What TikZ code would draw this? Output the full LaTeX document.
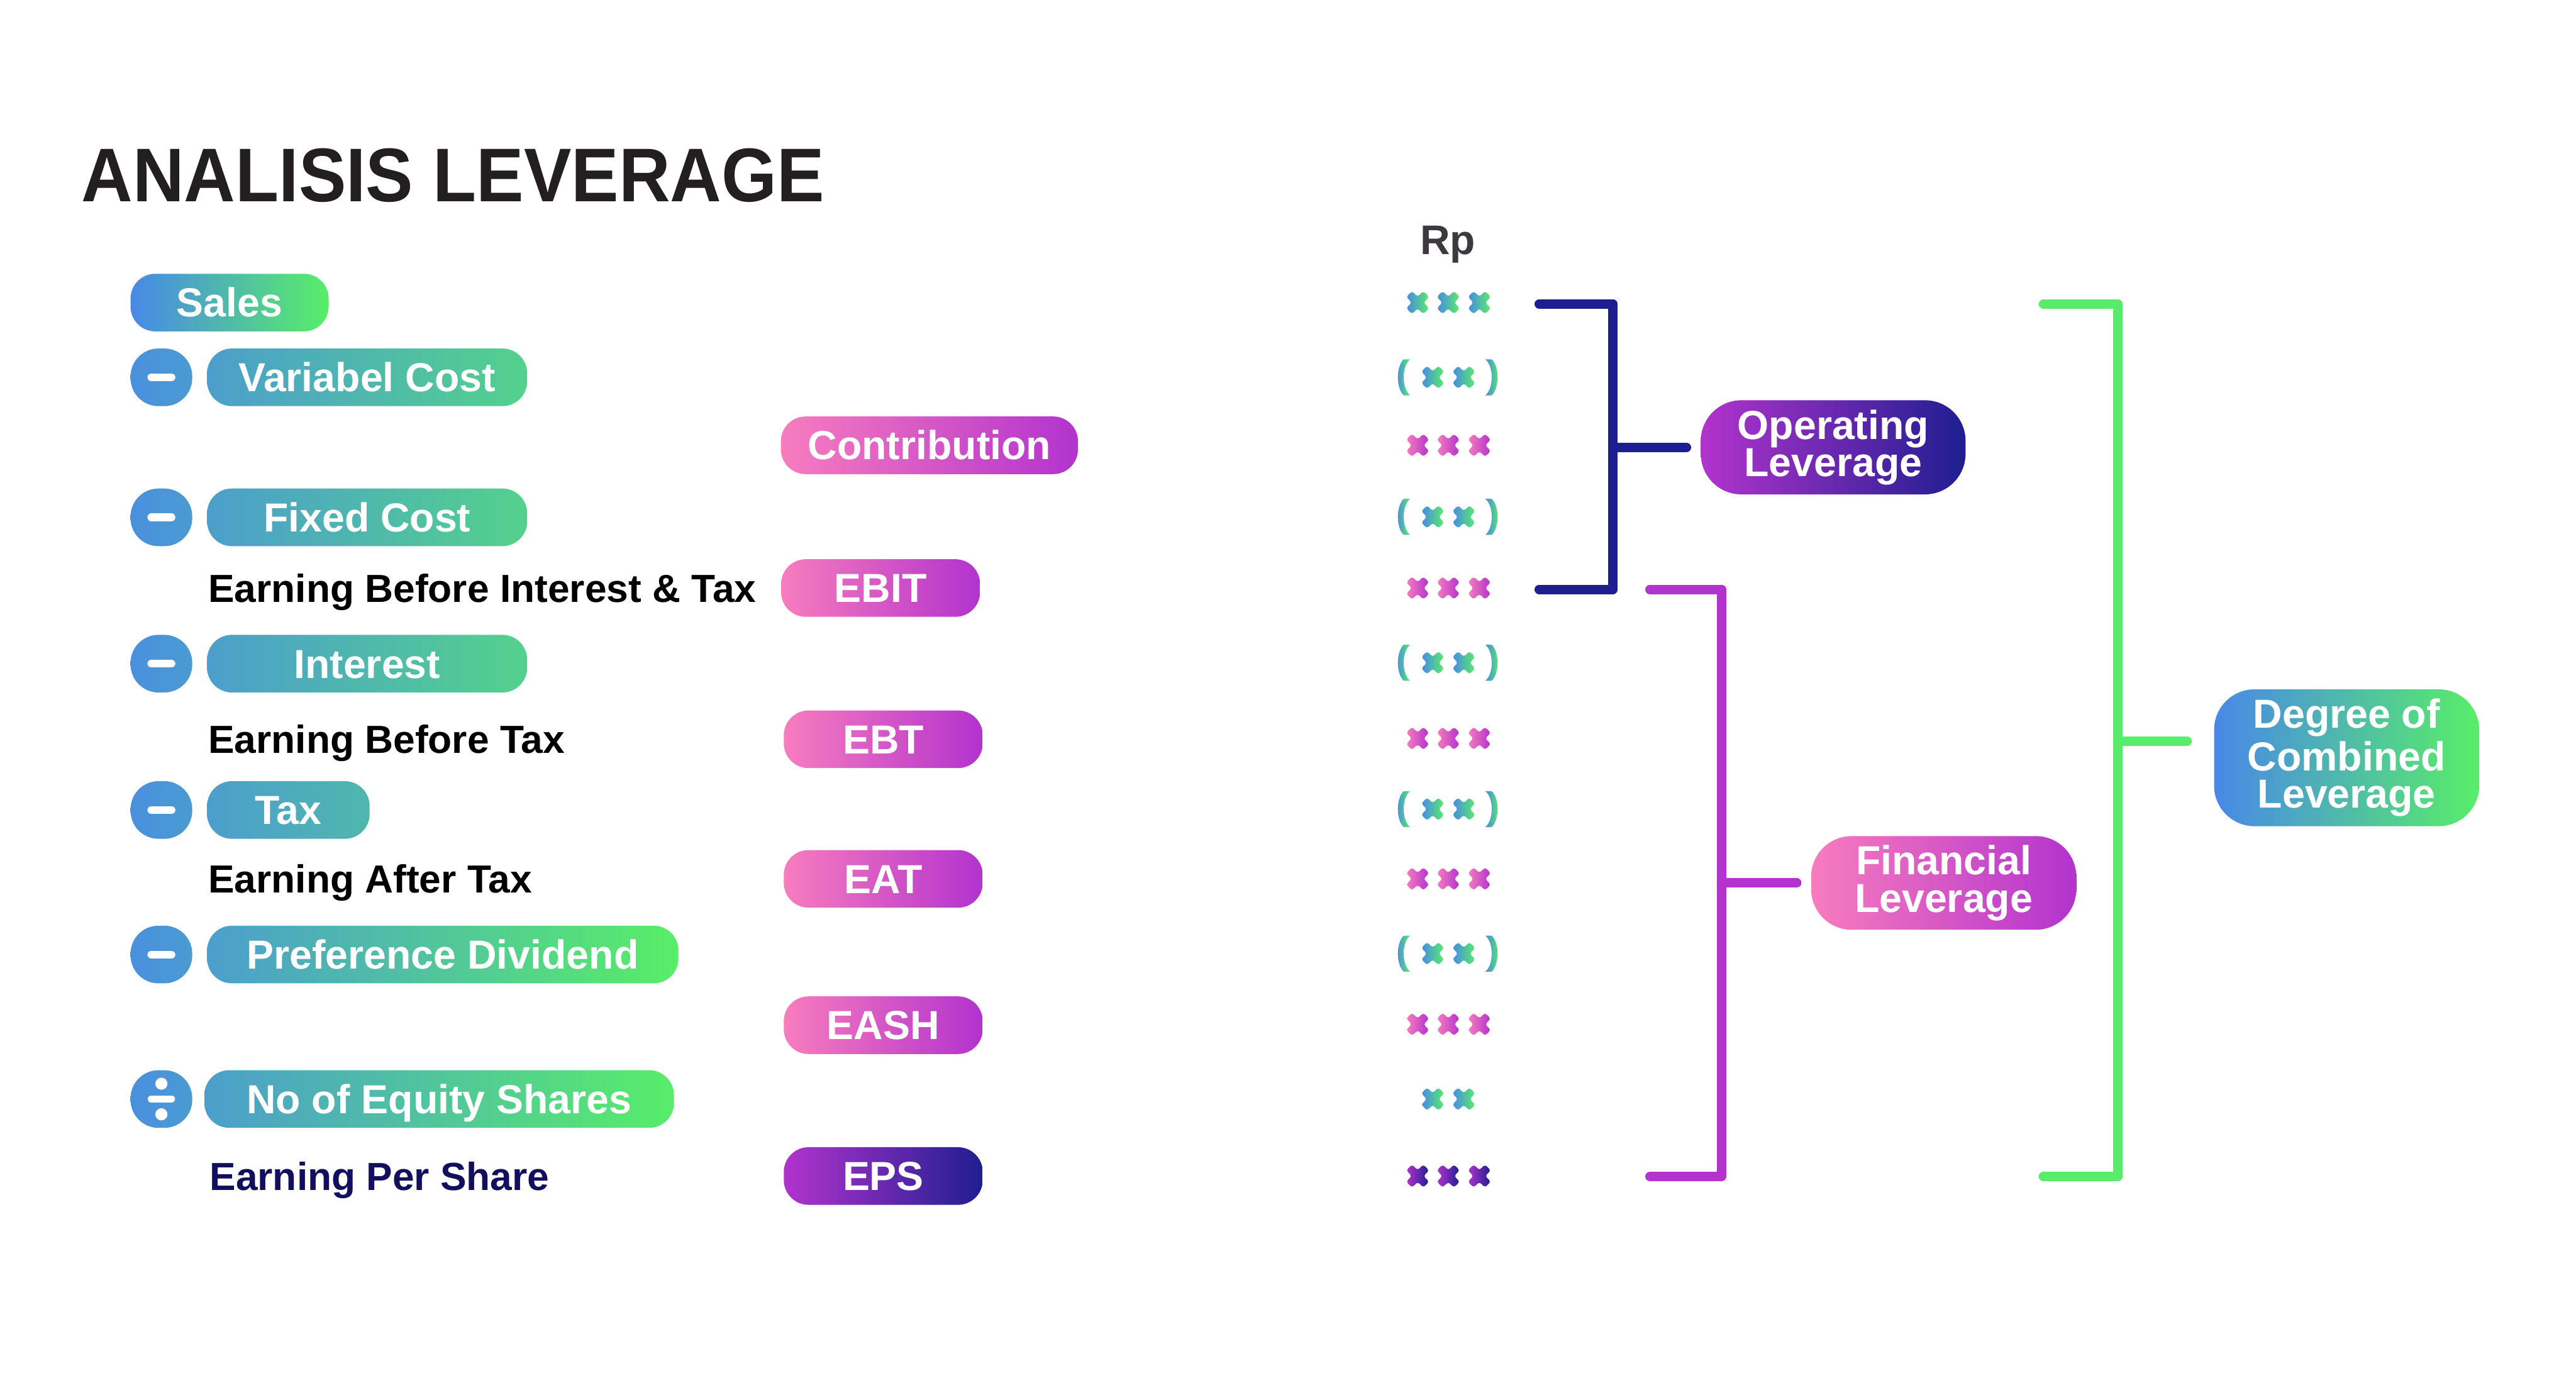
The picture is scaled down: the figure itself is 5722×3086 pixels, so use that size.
\documentclass[tikz,border=0pt]{standalone}
\usepackage{fontspec}
\setmainfont{Liberation Sans}
\newfontfamily\titlefont[FakeStretch=0.935]{Liberation Sans}
\usetikzlibrary{calc}
\definecolor{gBlue}{HTML}{4888E8}
\definecolor{gGreen}{HTML}{58EE68}
\definecolor{pPink}{HTML}{F87CBE}
\definecolor{pPurple}{HTML}{B233CE}
\definecolor{nNavy}{HTML}{1F1E91}
\definecolor{epsNavy}{HTML}{12105E}
\definecolor{titleC}{HTML}{231F20}
\definecolor{rpC}{HTML}{3D3A3E}
\definecolor{lineGreen}{HTML}{58EC6A}
\newcommand\xmk[3]{\shade[left color=#2,right color=#3,rounded corners=0.55pt,shift={(#1)}] (0,13) -- (12.5,25.5) -- (25.5,12.5) -- (13,0) -- (25.5,-12.5) -- (12.5,-25.5) -- (0,-13) -- (-12.5,-25.5) -- (-25.5,-12.5) -- (-13,0) -- (-25.5,12.5) -- (-12.5,25.5) -- cycle;}
\newcommand\lparen[1]{\shade[left color=gBlue,right color=gGreen,shift={(#1)}] (-0.5,-40) .. controls (-17.8,-24) and (-17.8,24) .. (-0.5,40) -- (13.5,40) .. controls (-5.2,24) and (-5.2,-24) .. (13.5,-40) -- cycle;}
\newcommand\rparen[1]{\shade[left color=gBlue,right color=gGreen,shift={(#1)}] (0.5,-40) .. controls (17.8,-24) and (17.8,24) .. (0.5,40) -- (-13.5,40) .. controls (5.2,24) and (5.2,-24) .. (-13.5,-40) -- cycle;}
\newcommand\xxxrow[3]{\xmk{3149,#1}{#2}{#3}\xmk{3217,#1}{#2}{#3}\xmk{3286,#1}{#2}{#3}}
\newcommand\pxxrow[1]{\lparen{3118.5,#1}\rparen{3313,#1}\xmk{3182.5,#1}{gBlue}{gGreen}\xmk{3251.5,#1}{gBlue}{gGreen}}
\begin{document}
\begin{tikzpicture}[x=0.1pt,y=-0.1pt,
  pill/.style={rounded corners=5.5pt, minimum height=12.8pt, inner sep=0pt, text height=6.4pt, text depth=0pt, font=\fontsize{9}{10}\selectfont\bfseries, text=white},
  opbox/.style={rounded corners=6.2pt, minimum width=13.7pt, minimum height=12.8pt, inner sep=0pt, left color=gGreen!8!gBlue, right color=gGreen!18!gBlue},
  lev/.style={rounded corners=9pt, inner sep=0pt, align=center, text=white, font=\fontsize{9}{8.3}\selectfont\bfseries},
  lbl/.style={anchor=base west, inner sep=0pt, font=\fontsize{8.7}{10}\selectfont\bfseries, text=black},
  brk/.style={line width=2.1pt, line cap=round, line join=round},
  minusbar/.style={white, line width=1.7pt, line cap=round}]
\useasboundingbox (0,0) rectangle (5722,3086);
\fill[white] (0,0) rectangle (5722,3086);

% title
\node[anchor=base west, inner sep=0pt, font=\titlefont\fontsize{16.9}{20}\selectfont\bfseries, text=titleC] (title) at (179,448) {ANALISIS LEVERAGE};

% left column
\node[pill, minimum width=44pt, left color=gBlue, right color=gGreen] (sales) at (510,672) {Sales};

\node[opbox] (m1) at (358.5,838) {};
\draw[minusbar] ([xshift=-2.25pt]m1.center) -- ([xshift=2.25pt]m1.center);
\node[pill, minimum width=71.1pt, left color=gGreen!22!gBlue, right color=gGreen!72!gBlue] (vc) at (815.5,838) {Variabel Cost};

\node[pill, minimum width=66pt, left color=pPink, right color=pPurple] (contr) at (2064.5,989) {Contribution};

\node[opbox] (m2) at (358.5,1149) {};
\draw[minusbar] ([xshift=-2.25pt]m2.center) -- ([xshift=2.25pt]m2.center);
\node[pill, minimum width=71.1pt, left color=gGreen!22!gBlue, right color=gGreen!72!gBlue] (fc) at (815.5,1149) {Fixed Cost};

\node[lbl] (ebitt) at (461,1338) {Earning Before Interest \& Tax};
\node[pill, minimum width=44.2pt, left color=pPink, right color=pPurple] (ebit) at (1956,1306) {EBIT};

\node[opbox] (m3) at (358.5,1474) {};
\draw[minusbar] ([xshift=-2.25pt]m3.center) -- ([xshift=2.25pt]m3.center);
\node[pill, minimum width=71.1pt, left color=gGreen!22!gBlue, right color=gGreen!72!gBlue] (int) at (815.5,1474) {Interest};

\node[lbl] (ebtt) at (461,1673) {Earning Before Tax};
\node[pill, minimum width=44.2pt, left color=pPink, right color=pPurple] (ebt) at (1962,1642) {EBT};

\node[opbox] (m4) at (358.5,1799) {};
\draw[minusbar] ([xshift=-2.25pt]m4.center) -- ([xshift=2.25pt]m4.center);
\node[pill, minimum width=36.1pt, left color=gGreen!22!gBlue, right color=gGreen!46!gBlue] (tax) at (640.5,1799) {Tax};

\node[lbl] (eatt) at (461,1983) {Earning After Tax};
\node[pill, minimum width=44.2pt, left color=pPink, right color=pPurple] (eat) at (1962,1952) {EAT};

\node[opbox] (m5) at (358.5,2120) {};
\draw[minusbar] ([xshift=-2.25pt]m5.center) -- ([xshift=2.25pt]m5.center);
\node[pill, minimum width=104.7pt, left color=gGreen!22!gBlue, right color=gGreen] (pref) at (983.5,2120) {Preference Dividend};

\node[pill, minimum width=44.2pt, left color=pPink, right color=pPurple] (eash) at (1962,2277) {EASH};

\node[opbox] (dv) at (358.5,2441) {};
\draw[white, line width=1.6pt, line cap=round] ([xshift=-2.25pt]dv.center) -- ([xshift=2.25pt]dv.center);
\fill[white] ([yshift=3.4pt]dv.center) circle (1.35pt);
\fill[white] ([yshift=-3.4pt]dv.center) circle (1.35pt);
\node[pill, minimum width=104.3pt, left color=gGreen!22!gBlue, right color=gGreen!99!gBlue] (eq) at (975.5,2441) {No of Equity Shares};

\node[lbl, text=epsNavy] (epst) at (464,2644) {Earning Per Share};
\node[pill, minimum width=44.2pt, left color=pPurple, right color=nNavy] (eps) at (1962,2612) {EPS};

% Rp column
\node[anchor=base, inner sep=0pt, font=\fontsize{9.2}{10}\selectfont\bfseries, text=rpC] (rp) at (3216,565) {Rp};
\xxxrow{672}{gBlue}{gGreen}
\pxxrow{838}
\xxxrow{989}{pPink}{pPurple}
\pxxrow{1148}
\xxxrow{1306}{pPink}{pPurple}
\pxxrow{1472}
\xxxrow{1640}{pPink}{pPurple}
\pxxrow{1797}
\xxxrow{1952}{pPink}{pPurple}
\pxxrow{2118}
\xxxrow{2275}{pPink}{pPurple}
\xmk{3182.5,2441}{gBlue}{gGreen}\xmk{3251.5,2441}{gBlue}{gGreen}
\xxxrow{2612}{pPurple}{nNavy}

% leverage boxes
\node[lev, minimum width=58.8pt, minimum height=20.9pt, left color=pPurple, right color=nNavy] (op) at (4072,993.5) {Operating\\Leverage};
\node[lev, minimum width=58.9pt, minimum height=20.8pt, left color=pPink, right color=pPurple] (fl) at (4317.5,1961) {Financial\\Leverage};
\node[lev, minimum width=58.9pt, minimum height=30.4pt, left color=gBlue, right color=gGreen] (dcl) at (5212.5,1683) {Degree of\\Combined\\Leverage};

% brackets
\coordinate (opTop) at (3419,675);
\coordinate (opBot) at (3419,1309);
\coordinate (opV) at (3583,993.5);
\draw[brk, nNavy] (opTop) -| (opV) |- (opBot);
\draw[brk, nNavy] (opV) -- ($(opV -| op.west)+(-30,0)$);

\coordinate (flTop) at (3665,1309);
\coordinate (flBot) at (3665,2613);
\coordinate (flV) at (3824,1961);
\draw[brk, pPurple] (flTop) -| (flV) |- (flBot);
\draw[brk, pPurple] (flV) -- ($(flV -| fl.west)+(-30,0)$);

\coordinate (dcTop) at (4539,675);
\coordinate (dcBot) at (4539,2613);
\coordinate (dcV) at (4704,1646);
\draw[brk, lineGreen] (dcTop) -| (dcV) |- (dcBot);
\draw[brk, lineGreen] (dcV) -- ($(dcV -| dcl.west)+(-58,0)$);
\end{tikzpicture}
\end{document}
